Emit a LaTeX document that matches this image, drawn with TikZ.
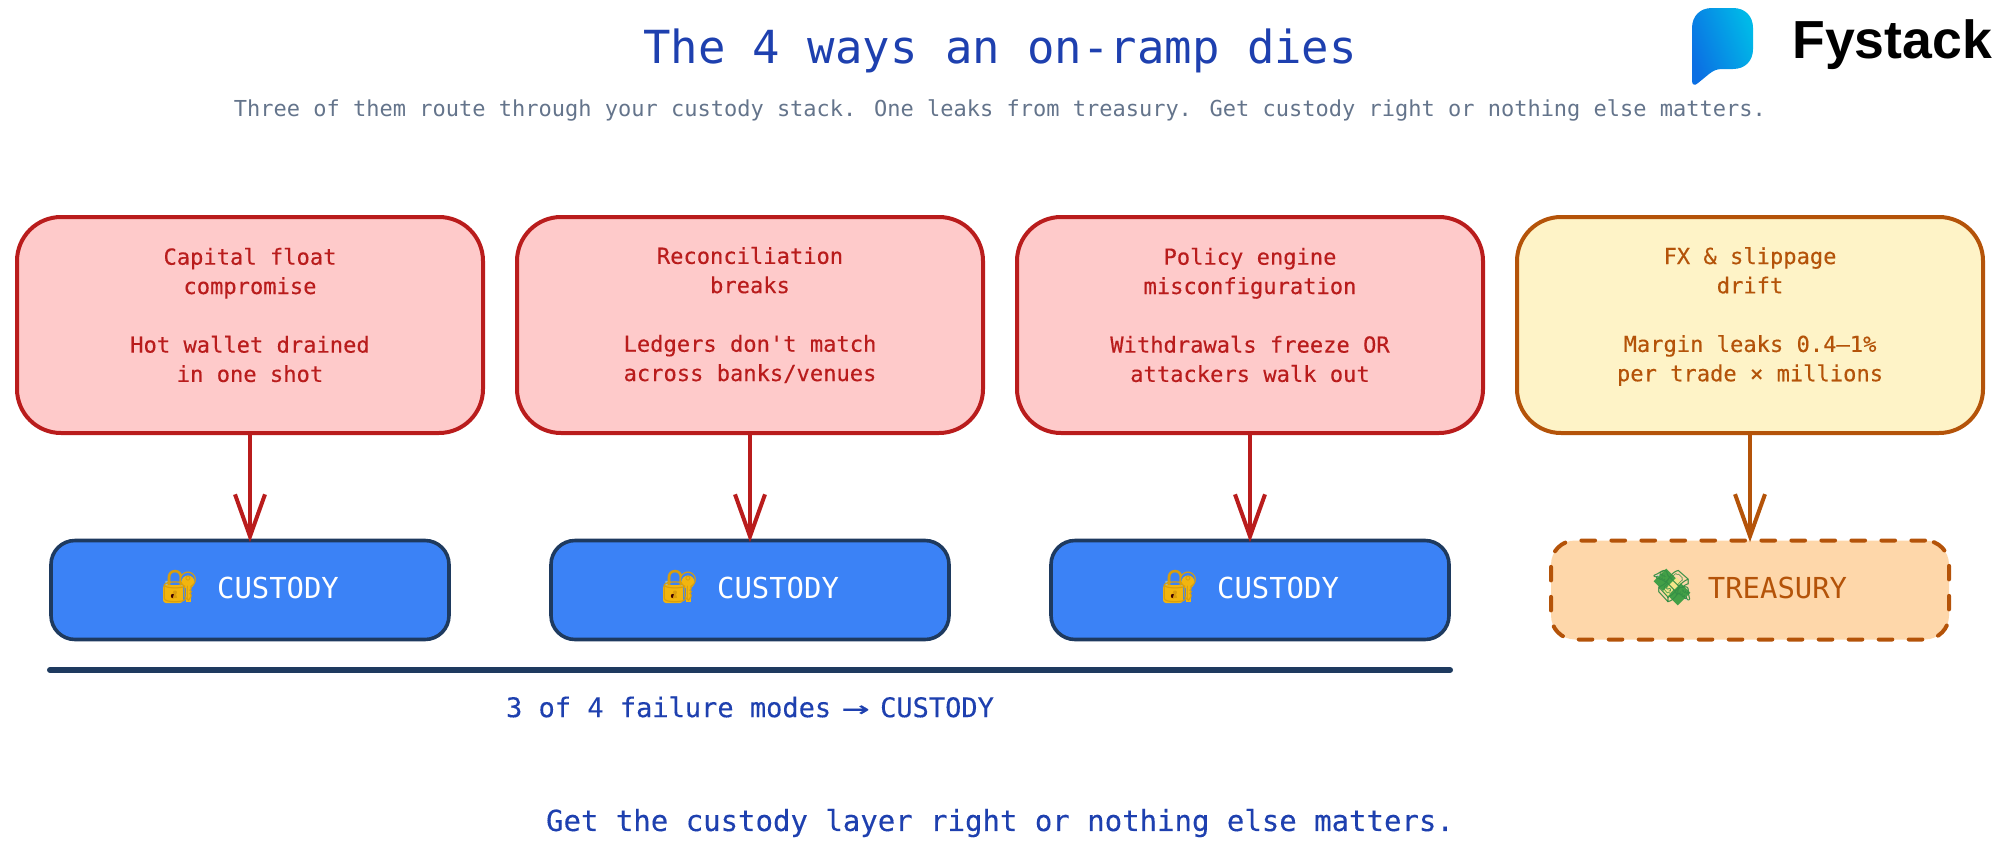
\documentclass[tikz,border=0pt]{standalone}
\usepackage{fontspec}
\usepackage{graphicx}
\usetikzlibrary{arrows.meta,positioning}
\setmainfont{DejaVu Sans Mono}
\newfontfamily\plainmono{DejaVu Sans Mono}
\newfontfamily\heavymono[FakeBold=0.25]{DejaVu Sans Mono}
\newfontfamily\emojifont{Noto Emoji}
\newfontfamily\logofont{Liberation Sans}
\definecolor{titleblue}{HTML}{1E40AF}
\definecolor{slatetxt}{HTML}{64748B}
\definecolor{redline}{HTML}{B91C1C}
\definecolor{redfill}{HTML}{FECACA}
\definecolor{amberline}{HTML}{B45309}
\definecolor{amberfill}{HTML}{FEF3C7}
\definecolor{orangefill}{HTML}{FED7AA}
\definecolor{custfill}{HTML}{3B82F6}
\definecolor{navyline}{HTML}{1E3A5F}
\definecolor{lockgold}{HTML}{F2B50F}
\definecolor{lockdark}{HTML}{D99E0C}
\definecolor{shackle}{HTML}{8FB9C9}
\definecolor{moneygreen}{HTML}{43A047}
\definecolor{moneydark}{HTML}{358F45}
\definecolor{moneyband}{HTML}{F3E58A}
\definecolor{wing}{HTML}{DADADA}
\definecolor{logoa}{HTML}{0B6FE3}
\definecolor{logob}{HTML}{00B9E8}
\newcommand{\cardfont}{\heavymono\fontsize{11.05}{14.65}\selectfont}
\newcommand{\boxfont}{\fontsize{14.45}{17}\selectfont}
\tikzset{
  x=0.5pt,y=-0.5pt,
  cardbox/.style={rounded corners=22pt,line width=2pt,minimum width=233pt,minimum height=108pt,inner sep=0pt},
  failbox/.style={cardbox,draw=redline,fill=redfill},
  driftbox/.style={cardbox,draw=amberline,fill=amberfill},
  cardtext/.style={align=center,font=\cardfont,inner sep=0pt},
  layerbox/.style={rounded corners=12pt,minimum width=199pt,minimum height=49.5pt,inner sep=0pt,font=\boxfont},
  custbox/.style={layerbox,draw=navyline,line width=1.8pt,fill=custfill,text=white},
  treasbox/.style={layerbox,draw=amberline,line width=2pt,fill=orangefill,text=amberline,line cap=round,dash pattern=on 6.8pt off 8.2pt},
  failarrow/.style={line width=2pt,shorten >=-1.8pt,-{Straight Barb[length=21pt,width=15pt,line width=2pt]}},
  emojicell/.style={inner sep=0pt,font=\emojifont\fontsize{16}{16}\selectfont},
  lockglyph/.pic={
    \draw[shackle,line width=1.6pt] (-13,0) -- (-13,-6) arc[start angle=180,end angle=0,x radius=8,y radius=8] -- (3,0);
    \fill[lockgold,rounded corners=1.5pt] (-17,-2) rectangle (3,16);
    \fill[lockgold] (8,-5) circle[radius=6.5];
    \fill[lockgold] (6,0) rectangle (10.5,15);
    \fill[black!75!red] (-7,9) circle[radius=2.2];
  },
  moneyglyph/.pic={
    \fill[wing] (-17,-11) -- (-4,-15) -- (-2,-4) -- cycle;
    \fill[wing] (4,3) -- (16,2) -- (15,14) -- cycle;
    \fill[moneygreen,rotate=-45] (-17,-9) rectangle (17,9);
    \fill[moneyband,rotate=-45] (-3.5,-10) rectangle (3.5,10);
  },
}
\begin{document}
\begin{tikzpicture}
\useasboundingbox (0,0) rectangle (2000,867);
% Heading
\node[inner sep=0pt,text=titleblue,font=\fontsize{22.8}{26}\selectfont] (title) at (1000,51) {The 4 ways an on-ramp dies};
\node[inner sep=0pt,text=slatetxt,font=\fontsize{11}{14}\selectfont] (subtitle) at (1000,110) {Three of them route through your custody stack. One leaks from treasury. Get custody right or nothing else matters.};
% Logo
\path[left color=logoa,right color=logob,shading angle=110]
  (1692,28) .. controls (1692,16) and (1700,8) .. (1712,8) -- (1733,8)
  .. controls (1745,8) and (1753,16) .. (1753,28) -- (1753,49)
  .. controls (1753,61) and (1745,69) .. (1733,69) -- (1722,69)
  .. controls (1716,69) and (1713,71) .. (1709,74) -- (1698,83)
  .. controls (1695,86) and (1692,85) .. (1692,81) -- cycle;
\node[inner sep=0pt,anchor=west,font=\logofont\bfseries\fontsize{26.8}{30}\selectfont] (logo) at (1792,45) {Fystack};
% Failure cards
\node[failbox] (c1) at (250,325) {};
\node[failbox] (c2) at (750,325) {};
\node[failbox] (c3) at (1250,325) {};
\node[driftbox] (c4) at (1750,325) {};
\node[cardtext,text=redline] (t1) at (250,315) {Capital float\\compromise\\\strut\\Hot wallet drained\\in one shot};
\node[cardtext,text=redline] (t2) at (750,315) {Reconciliation\\breaks\\\strut\\Ledgers don't match\\across banks/venues};
\node[cardtext,text=redline] (t3) at (1250,315) {Policy engine\\misconfiguration\\\strut\\Withdrawals freeze OR\\attackers walk out};
\node[cardtext,text=amberline] (t4) at (1750,316.5) {FX \& slippage\\drift\\\strut\\Margin leaks 0.4–1\%\\per trade × millions};
% Layers
\node[custbox] (l1) at (250,590) {};
\node[custbox] (l2) at (750,590) {};
\node[custbox] (l3) at (1250,590) {};
\node[treasbox] (l4) at (1750,590) {};
\foreach \cx/\nm in {250/a,750/b,1250/c}{
  \pic at (\cx-70,587) {lockglyph};
  \node[emojicell,text=lockdark] (e\nm) at (\cx-70,587) {🔐};
  \node[inner sep=0pt,text=white,font=\boxfont] (n\nm) at (\cx+28,588) {CUSTODY};
}
\pic at (1672,587) {moneyglyph};
\node[emojicell,text=moneydark] (ed) at (1672,587) {💸};
\node[inner sep=0pt,text=amberline,font=\boxfont] (nd) at (1777.5,588) {TREASURY};
% Connectors
\draw[failarrow,redline] (c1) -- (l1);
\draw[failarrow,redline] (c2) -- (l2);
\draw[failarrow,redline] (c3) -- (l3);
\draw[failarrow,amberline] (c4) -- (l4);
% Bracket
\coordinate (ba) at (50,670);
\coordinate (bb) at (1450,670);
\draw[navyline,line width=3pt,line cap=round] (ba) -- (bb);
\node[inner sep=0pt,text=titleblue,font=\heavymono\fontsize{13.5}{16}\selectfont] (bl) at (750,707) {3 of 4 failure modes \hspace{-2.8pt}\scalebox{1.7}[1]{→}\hspace{-2.8pt} CUSTODY};
\node[inner sep=0pt,text=titleblue,font=\heavymono\fontsize{14.5}{17}\selectfont] (foot) at (1000,823) {Get the custody layer right or nothing else matters.};
\end{tikzpicture}
\end{document}
